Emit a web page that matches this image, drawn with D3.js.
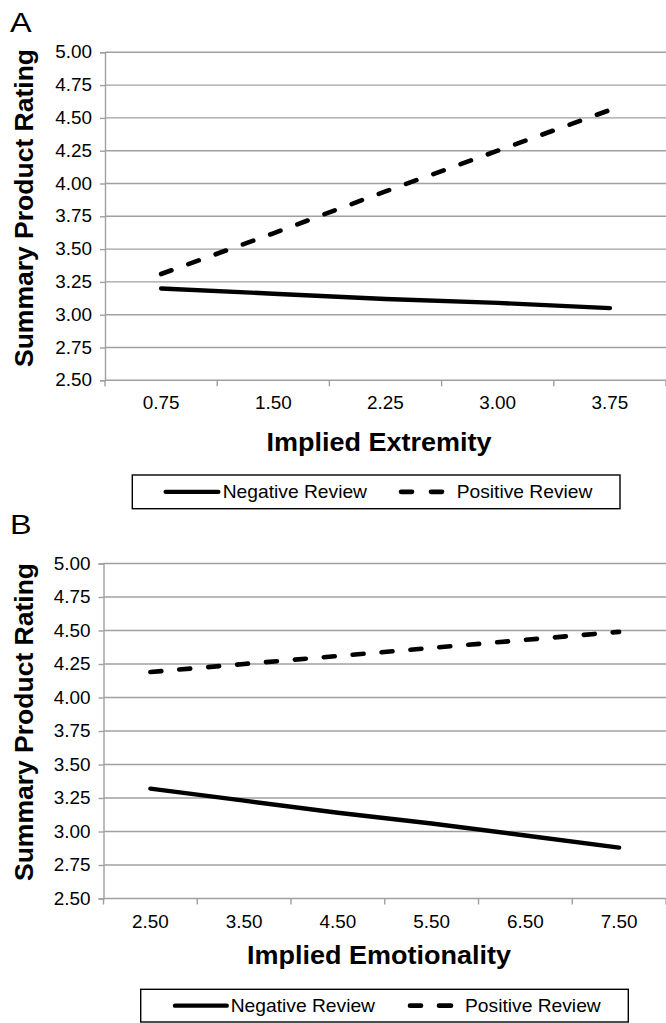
<!DOCTYPE html>
<html>
<head>
<meta charset="utf-8">
<script src="https://cdn.jsdelivr.net/npm/d3@7"></script>
<style>
  html, body { margin: 0; padding: 0; background: #fff; }
  svg { display: block; }
  text { font-family: "Liberation Sans", Arial, Helvetica, sans-serif; fill: #000; }
</style>
</head>
<body>
<svg id="chart" width="666" height="1023"></svg>
<script>
// ---- data ----
const seriesNames = ["Negative Review", "Positive Review"];
const yTicks = [2.50, 2.75, 3.00, 3.25, 3.50, 3.75, 4.00, 4.25, 4.50, 4.75, 5.00];
const yTitle = "Summary Product Rating";

const catA = ["0.75", "1.50", "2.25", "3.00", "3.75"];
const negA = [3.20, 3.16, 3.12, 3.09, 3.05];
const posA = [3.31, 3.62, 3.94, 4.25, 4.56];
const xTitleA = "Implied Extremity";

const catB = ["2.50", "3.50", "4.50", "5.50", "6.50", "7.50"];
const negB = [3.32, 3.23, 3.14, 3.06, 2.97, 2.88];
const posB = [4.19, 4.25, 4.31, 4.37, 4.43, 4.49];
const xTitleB = "Implied Emotionality";

// ---- layout ----
const SX = 1.08;           // horizontal text stretch seen in the reference
const gridColor = "#a0a0a0";
const svg = d3.select("#chart");

const panels = [
  { tag: "A", cats: catA, neg: negA, pos: posA, xTitle: xTitleA,
    left: 105, right: 666, top: 52.3, bottom: 380.3,
    tagY: 32, yTitleX: 33, yTitleY: 208, tickY: 409.5, xTitleY: 451,
    legend: { x: 132.3, y: 475, w: 487.7, h: 33.7, solid: [165.7, 218.3], negText: 222.7,
              dash: [[399, 414], [429, 444]], posText: 456.7 } },
  { tag: "B", cats: catB, neg: negB, pos: posB, xTitle: xTitleB,
    left: 103.5, right: 666, top: 563.5, bottom: 898.5,
    tagY: 534, yTitleX: 33, yTitleY: 722, tickY: 928, xTitleY: 963.5,
    legend: { x: 140.7, y: 989.3, w: 487.6, h: 32.7, solid: [175, 226.7], negText: 230.7,
              dash: [[408, 423], [437, 453]], posText: 465 } }
];

function stretchedText(g, x, y, str, opts) {
  const t = g.append("text")
    .attr("transform", `translate(${x},${y}) scale(${opts.sx || SX},1)`)
    .attr("font-size", opts.size)
    .attr("font-weight", opts.weight || "normal")
    .attr("text-anchor", opts.anchor || "start")
    .text(str);
  if (opts.dy) t.attr("dy", opts.dy);
  return t;
}

panels.forEach(p => {
  const g = svg.append("g");

  const x = d3.scaleBand().domain(p.cats).range([p.left, p.right]).padding(0);
  const y = d3.scaleLinear().domain([2.5, 5.0]).range([p.bottom, p.top]);
  const cx = d => x(d) + x.bandwidth() / 2;

  // gridlines
  g.append("g").selectAll("line").data(yTicks).join("line")
    .attr("x1", p.left).attr("x2", p.right)
    .attr("y1", d => y(d)).attr("y2", d => y(d))
    .attr("stroke", gridColor).attr("stroke-width", 1.4);

  // y axis
  const yAxis = g.append("g").attr("transform", `translate(${p.left},0)`)
    .call(d3.axisLeft(y).tickValues(yTicks).tickSize(5).tickPadding(7).tickFormat(d3.format(".2f")));
  yAxis.select(".domain").attr("stroke", gridColor).attr("stroke-width", 1.4);
  yAxis.selectAll(".tick line").attr("stroke", gridColor).attr("stroke-width", 1.4);
  yAxis.selectAll(".tick text")
    .attr("font-size", 17.5).attr("fill", "#000")
    .attr("font-family", "Liberation Sans, Arial, sans-serif")
    .attr("transform", `scale(${SX},1)`);

  // x axis: labels at band centers, tick marks at band boundaries
  const xAxis = g.append("g").attr("transform", `translate(0,${p.bottom})`)
    .call(d3.axisBottom(x).tickSize(0).tickPadding(0));
  xAxis.select(".domain").remove();
  xAxis.selectAll(".tick text")
    .attr("y", p.tickY - p.bottom).attr("dy", 0)
    .attr("font-size", 17.5).attr("fill", "#000")
    .attr("font-family", "Liberation Sans, Arial, sans-serif")
    .attr("transform", `scale(${SX},1)`);
  const bounds = p.cats.map(d => x(d)).concat([p.right]);
  g.append("g").selectAll("line").data(bounds).join("line")
    .attr("x1", d => d).attr("x2", d => d)
    .attr("y1", p.bottom).attr("y2", p.bottom + 6)
    .attr("stroke", gridColor).attr("stroke-width", 1.4);

  // lines
  const line = d3.line().x((d, i) => cx(p.cats[i])).y(d => y(d));
  g.append("path").datum(p.neg).attr("d", line)
    .attr("fill", "none").attr("stroke", "#000").attr("stroke-width", 4.4)
    .attr("stroke-linecap", "round").attr("stroke-linejoin", "round");
  g.append("path").datum(p.pos).attr("d", line)
    .attr("fill", "none").attr("stroke", "#000").attr("stroke-width", 4.6)
    .attr("stroke-dasharray", "11,18")
    .attr("stroke-linecap", "round").attr("stroke-linejoin", "round");

  // panel tag
  stretchedText(g, 10, p.tagY, p.tag, { size: 27, sx: 1.2 });

  // y title
  g.append("text")
    .attr("transform", `translate(${p.yTitleX},${p.yTitleY}) rotate(-90)`)
    .attr("text-anchor", "middle")
    .attr("font-size", 26.5).attr("font-weight", "bold")
    .text(yTitle);

  // x title
  stretchedText(g, 379, p.xTitleY, p.xTitle, { size: 25, weight: "bold", anchor: "middle" });

  // legend
  const L = p.legend;
  const lg = g.append("g");
  lg.append("rect").attr("x", L.x).attr("y", L.y).attr("width", L.w).attr("height", L.h)
    .attr("fill", "#fff").attr("stroke", "#000").attr("stroke-width", 1.4);
  const ly = L.y + L.h / 2;
  lg.append("line").attr("x1", L.solid[0]).attr("x2", L.solid[1]).attr("y1", ly).attr("y2", ly)
    .attr("stroke", "#000").attr("stroke-width", 4.4).attr("stroke-linecap", "round");
  stretchedText(lg, L.negText, ly, seriesNames[0], { size: 17.5, dy: "0.36em", sx: 1.1 });
  lg.selectAll("line.dash").data(L.dash).join("line").attr("class", "dash")
    .attr("x1", d => d[0] + 2).attr("x2", d => d[1] - 2).attr("y1", ly).attr("y2", ly)
    .attr("stroke", "#000").attr("stroke-width", 4.6).attr("stroke-linecap", "round");
  stretchedText(lg, L.posText, ly, seriesNames[1], { size: 17.5, dy: "0.36em", sx: 1.1 });
});
</script>
</body>
</html>
